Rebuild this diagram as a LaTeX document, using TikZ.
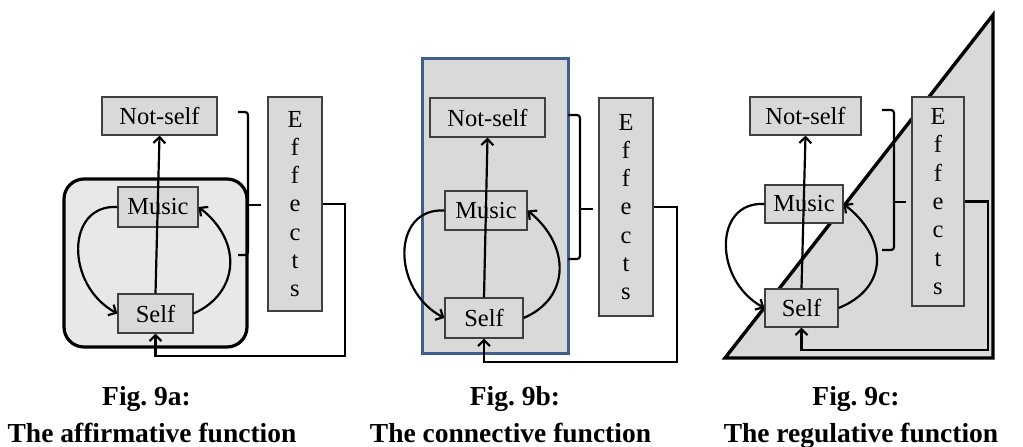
\documentclass[tikz,border=0pt]{standalone}
\usepackage{fontspec}
\setmainfont{Liberation Serif}
\usetikzlibrary{arrows.meta}
\definecolor{boxgray}{RGB}{217,217,217}
\definecolor{panelgray}{RGB}{232,232,232}
\definecolor{frameblue}{RGB}{65,95,140}
\frenchspacing
\begin{document}
\begin{tikzpicture}[x=1pt,y=-1pt,
  box/.style={draw=black!75, line width=1.2pt, fill=boxgray, inner sep=0pt, font=\fontsize{24.5}{28}\selectfont},
  effbox/.style={box, align=center, font=\fontsize{24.5}{28.3}\selectfont},
  conn/.style={line width=2.2pt},
  arr/.style={conn, -{Straight Barb[length=6pt,width=12pt]}},
  brk/.style={line width=2.2pt, rounded corners=3pt},
  figcap/.style={inner sep=0pt, anchor=base, font=\bfseries\fontsize{27.5}{30}\selectfont}
]
\useasboundingbox (0,0) rectangle (1023,447);

% ---------------- Fig. 9a ----------------
\draw[line width=3.2pt, fill=panelgray, rounded corners=20pt] (64,179) rectangle (247,347);
\node[box, minimum width=115pt, minimum height=38pt] (nsA) at (159.5,116) {Not-self};
\node[effbox, minimum width=54pt, minimum height=214pt] (efA) at (295,204) {E\\f\\f\\e\\c\\t\\s};
\node[box, minimum width=80pt, minimum height=40pt] (muA) at (158,207) {Music};
\node[box, minimum width=75pt, minimum height=39pt] (seA) at (155.5,313.5) {Self};
\draw[arr] (seA.north) -- (nsA.south);
\draw[arr] (muA.west) .. controls +(-52,-3) and +(-52,-28) .. (seA.west);
\draw[arr] (seA.east) .. controls +(45,-20) and +(45,35) .. (muA.east);
\coordinate (fA) at (345,356);
\draw[arr] (efA.east) -| (fA) -| (seA.south);
\coordinate (bA1) at (238,112);
\coordinate (bA2) at (238,255);
\coordinate (bAm) at (248,205);
\coordinate (bAt) at (261,205);
\draw[brk] (bA1) -- (248,112) -- (248,255) -- (bA2);
\draw[conn] (bAm) -- (bAt);

% ---------------- Fig. 9b ----------------
\draw[line width=3pt, draw=frameblue, fill=boxgray] (422,58) rectangle (568,353);
\node[box, minimum width=115pt, minimum height=39pt] (nsB) at (487.5,117.5) {Not-self};
\node[effbox, minimum width=54pt, minimum height=218pt] (efB) at (626,207) {E\\f\\f\\e\\c\\t\\s};
\node[box, minimum width=82pt, minimum height=39pt] (muB) at (486,210.5) {Music};
\node[box, minimum width=78pt, minimum height=40pt] (seB) at (484,318) {Self};
\draw[arr] (seB.north) -- (nsB.south);
\draw[arr] (muB.west) .. controls +(-53,-3) and +(-53,-28) .. (seB.west);
\draw[arr] (seB.east) .. controls +(47,-20) and +(43,35) .. (muB.east);
\coordinate (fB) at (677,362);
\draw[arr] (efB.east) -| (fB) -| (seB.south);
\coordinate (bB1) at (568,115);
\coordinate (bB2) at (568,259);
\coordinate (bBm) at (580,209);
\coordinate (bBt) at (593,209);
\draw[brk] (bB1) -- (580,115) -- (580,259) -- (bB2);
\draw[conn] (bBm) -- (bBt);

% ---------------- Fig. 9c ----------------
\draw[line width=3.4pt, fill=boxgray, line join=miter] (725,358) -- (993,15) -- (993,358) -- cycle;
\node[box, minimum width=111pt, minimum height=38pt] (nsC) at (805.5,116) {Not-self};
\node[effbox, minimum width=52pt, minimum height=209pt] (efC) at (938,201.5) {E\\f\\f\\e\\c\\t\\s};
\node[box, minimum width=78pt, minimum height=38pt] (muC) at (804,204) {Music};
\node[box, minimum width=73pt, minimum height=38pt] (seC) at (801.5,308) {Self};
\draw[arr] (seC.north) -- (nsC.south);
\draw[arr] (muC.west) .. controls +(-51,-3) and +(-51,-28) .. (seC.west);
\draw[arr] (seC.east) .. controls +(50,-20) and +(45,35) .. (muC.east);
\coordinate (fC) at (988,350);
\draw[arr] (efC.east) -| (fC) -| (seC.south);
\coordinate (bC1) at (882,110);
\coordinate (bC2) at (882,250);
\coordinate (bCm) at (894,202);
\coordinate (bCt) at (906,202);
\draw[brk] (bC1) -- (894,110) -- (894,250) -- (bC2);
\draw[conn] (bCm) -- (bCt);

% ---------------- Captions ----------------
\node[figcap] (capA1) at (146.5,405) {Fig. 9a:};
\node[figcap] (capA2) at (152,442) {The affirmative function};
\node[figcap] (capB1) at (515,405) {Fig. 9b:};
\node[figcap] (capB2) at (510.5,442) {The connective function};
\node[figcap] (capC1) at (856,405) {Fig. 9c:};
\node[figcap] (capC2) at (861,442) {The regulative function};
\end{tikzpicture}
\end{document}
